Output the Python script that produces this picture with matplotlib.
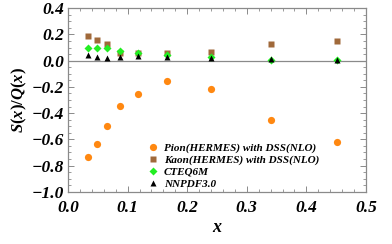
import matplotlib
matplotlib.use("Agg")
import matplotlib.pyplot as plt
from matplotlib.ticker import MultipleLocator, FuncFormatter

x = [0.034, 0.048, 0.065, 0.088, 0.118, 0.166, 0.240, 0.340, 0.451]
pion = [-0.735, -0.636, -0.502, -0.342, -0.251, -0.154, -0.215, -0.454, -0.621]
kaon = [0.185, 0.158, 0.129, 0.058, 0.058, 0.058, 0.066, 0.126, 0.152]
cteq = [0.094, 0.094, 0.094, 0.076, 0.061, 0.046, 0.028, 0.008, 0.003]
nnpdf = [0.046, 0.025, 0.023, 0.030, 0.033, 0.030, 0.020, 0.010, 0.008]
labels = ["Pion(HERMES) with DSS(NLO)", "Kaon(HERMES) with DSS(NLO)", "CTEQ6M", "NNPDF3.0"]

plt.rcParams['font.family'] = ['Liberation Serif', 'DejaVu Serif']
plt.rcParams['mathtext.fontset'] = 'custom'
plt.rcParams['mathtext.it'] = 'Liberation Serif:bold:italic'
plt.rcParams['mathtext.rm'] = 'Liberation Serif:bold'

fig = plt.figure(figsize=(3.92, 2.44), dpi=100)
ax = fig.add_axes([68/392, 1-191.7/244, (366-68)/392, (191.7-8.3)/244])

gray = '#8a8a8a'
ax.axhline(0, color=gray, lw=0.9, zorder=1)
ax.plot(x, pion, 'o', color='#FF8811', ms=5.2, mec='none', label=labels[0], zorder=3)
ax.plot(x, kaon, 's', color='#A0693A', ms=4.6, mec='none', label=labels[1], zorder=3)
ax.plot(x, cteq, 'D', color='#22EE22', ms=3.6, mec='none', label=labels[2], zorder=4)
ax.plot(x, nnpdf, '^', color='black', ms=3.8, mec='none', label=labels[3], zorder=5)

ax.set_xlim(0, 0.5)
ax.set_ylim(-1.0, 0.4)
ax.xaxis.set_major_locator(MultipleLocator(0.1))
ax.xaxis.set_minor_locator(MultipleLocator(0.02))
ax.yaxis.set_major_locator(MultipleLocator(0.2))
ax.yaxis.set_minor_locator(MultipleLocator(0.05))

def fmt(v, pos):
    s = f"{abs(v):.1f}"
    if v < -1e-9:
        return "\u2212" + s
    return s
ax.xaxis.set_major_formatter(FuncFormatter(fmt))
ax.yaxis.set_major_formatter(FuncFormatter(fmt))

for sp in ax.spines.values():
    sp.set_color(gray)
    sp.set_linewidth(0.9)
ax.tick_params(which='both', direction='in', top=True, right=True, color=gray)
ax.tick_params(which='major', length=4, width=0.7, labelsize=12.5)
ax.tick_params(axis='x', which='major', pad=6)
ax.tick_params(axis='y', which='major', pad=3)
ax.tick_params(which='minor', length=2, width=0.6)
for lab in ax.get_xticklabels() + ax.get_yticklabels():
    lab.set_fontweight('bold')
    lab.set_fontstyle('italic')

ax.set_xlabel('x', fontsize=13, fontweight='bold', fontstyle='italic', labelpad=2)
ax.set_ylabel(r'$S(x)/Q(x)$', fontsize=12, labelpad=2)

leg = ax.legend(loc='lower left', bbox_to_anchor=(0.24, -0.02), frameon=False,
                prop={'family': 'Liberation Serif', 'weight': 'bold', 'style': 'italic', 'size': 8},
                handletextpad=0.4, labelspacing=0.18, handlelength=1.2, borderaxespad=0.2)

fig.savefig('out.png', dpi=100)
